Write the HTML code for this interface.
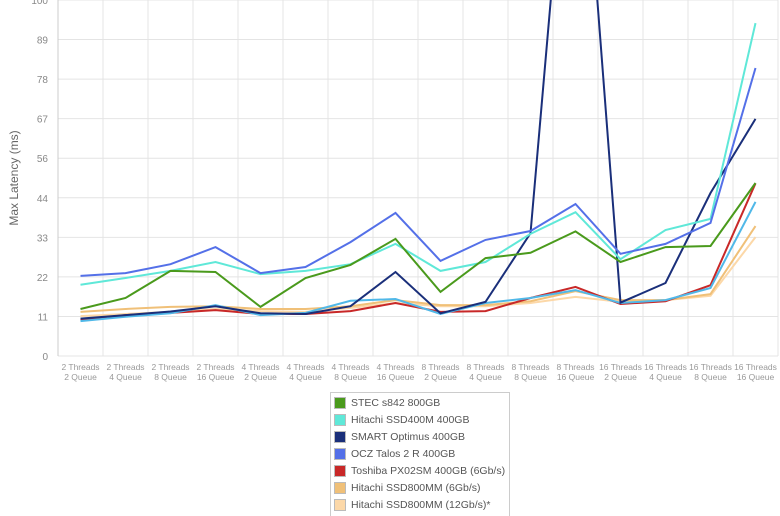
<!DOCTYPE html>
<html><head><meta charset="utf-8"><style>
body{margin:0;background:#fff;font-family:"Liberation Sans",sans-serif}
#wrap{position:relative;width:780px;height:516px;overflow:hidden}
#legend{position:absolute;left:330px;top:392px;width:178px;height:140px;border:1px solid #ccc;background:#fff}
.le{position:absolute;left:3px;height:14px;font-size:10.5px;color:#555;white-space:nowrap;line-height:14px}
.sw{display:inline-block;width:12px;height:12px;border:1px solid #bbb;vertical-align:middle;margin-right:5px;box-sizing:border-box}
</style></head><body>
<div id="wrap">
<svg id="chart" width="780" height="516"></svg>
<div id="legend"></div>
</div>
<script>
const categories=[["2 Threads","2 Queue"],["2 Threads","4 Queue"],["2 Threads","8 Queue"],["2 Threads","16 Queue"],["4 Threads","2 Queue"],["4 Threads","4 Queue"],["4 Threads","8 Queue"],["4 Threads","16 Queue"],["8 Threads","2 Queue"],["8 Threads","4 Queue"],["8 Threads","8 Queue"],["8 Threads","16 Queue"],["16 Threads","2 Queue"],["16 Threads","4 Queue"],["16 Threads","8 Queue"],["16 Threads","16 Queue"]];
const yTicks=[0,11.11,22.22,33.33,44.44,55.56,66.67,77.78,88.89,100];
const yTickLabels=["0","11","22","33","44","56","67","78","89","100"];
const seriesNames=["STEC s842 800GB","Hitachi SSD400M 400GB","SMART Optimus 400GB","OCZ Talos 2 R 400GB","Toshiba PX02SM 400GB (6Gb/s)","Hitachi SSD800MM (6Gb/s)","Hitachi SSD800MM (12Gb/s)*","Toshiba PX02SM 400GB (12Gb/s)"];
const seriesColors=["#4a9a1c","#5fe8d8","#1a2f7a","#5470e8","#c82828","#f0c078","#fcd8a8","#50b8e8"];
const stec=[13.2,16.3,23.9,23.6,13.8,21.9,25.6,32.9,18,27.5,29,35,26.4,30.6,30.9,48.6];
const hitachi400=[20,21.9,23.9,26.4,23,23.9,25.8,31.5,23.9,26.4,34.3,40.4,27.2,35.4,38.5,93.5];
const smart=[10.5,11.5,12.5,14,12,11.8,14,23.6,12,15.2,34.5,180,15,20.5,45.8,66.6];
const ocz=[22.5,23.3,25.8,30.6,23.3,25,32,40.2,26.7,32.6,35.1,42.7,28.7,31.5,37.4,80.9];
const tosh6=[10.1,11.5,12.1,12.9,11.8,11.8,12.6,14.9,12.4,12.6,16.3,19.4,14.6,15.4,19.9,48.5];
const hit6=[12.4,13.2,13.8,14,13.2,13.2,14,15.7,14.3,14.3,15.4,18.2,15.7,15.7,17.4,36.5];
const hit12=[11.2,11.8,12.4,13.2,12.6,12.4,13.5,14.9,14,14,14.9,16.6,15.2,15.7,16.9,33.4];
const tosh12=[9.8,11,12,14.3,11.5,12.1,15.5,16,11.8,14.9,16.3,18.5,14.9,15.7,19.1,43.3];
const allSeries=[stec,hitachi400,smart,ocz,tosh6,hit6,hit12,tosh12];

const NS="http://www.w3.org/2000/svg";
const svg=document.getElementById('chart');
const L=58,R=778,T=0,B=356;
const bw=(R-L)/categories.length;
const x=i=>L+bw*(i+0.5);
const y=v=>B-(v/100)*(B-T);
function mk(t,a,p){const e=document.createElementNS(NS,t);for(const k in a)e.setAttribute(k,a[k]);(p||svg).appendChild(e);return e;}
const clip=mk('clipPath',{id:'pc'});mk('rect',{x:L,y:T,width:R-L,height:B-T},clip);
yTicks.forEach((v,i)=>{
 const g=mk('line',{x1:L,x2:R,y1:y(v),y2:y(v),stroke:'#e4e4e4','stroke-width':1});
 
 
 const t=mk('text',{x:48,y:y(v)+4,'text-anchor':'end','font-size':10,fill:'#888'});
 t.textContent=yTickLabels[i];
 
 
});
for(let i=0;i<=categories.length;i++){
 const g=mk('line',{x1:L+bw*i,x2:L+bw*i,y1:T,y2:B,stroke:i==0?'#ccc':'#e4e4e4','stroke-width':1});
 
 
}
categories.forEach((c,i)=>{
 const t=mk('text',{x:x(i),y:370,'text-anchor':'middle','font-size':8.5,fill:'#999'});
 
 
 mk('tspan',{x:x(i),dy:0},t).textContent=c[0];
 mk('tspan',{x:x(i),dy:10},t).textContent=c[1];
});
const yt=mk('text',{x:0,y:0,transform:'translate(18,178) rotate(-90)','text-anchor':'middle','font-size':12,fill:'#666'});
yt.textContent='Max Latency (ms)';


const order=[6,5,4,7,2,1,0,3];
order.forEach(s=>{
 const d=allSeries[s].map((v,i)=>(i?'L':'M')+x(i).toFixed(1)+','+y(v).toFixed(1)).join(' ');
 const p=mk('path',{d:d,fill:'none',stroke:seriesColors[s],'stroke-width':2,'clip-path':'url(#pc)'});
 
 
});
const lg=document.getElementById('legend');
seriesNames.forEach((n,i)=>{
 const d=document.createElement('div');d.className='le';d.style.top=(3+i*17)+'px';
 
 
 d.innerHTML='<span class="sw" style="background:'+seriesColors[i]+'"></span>'+n;
 lg.appendChild(d);
});
</script>
</body></html>
